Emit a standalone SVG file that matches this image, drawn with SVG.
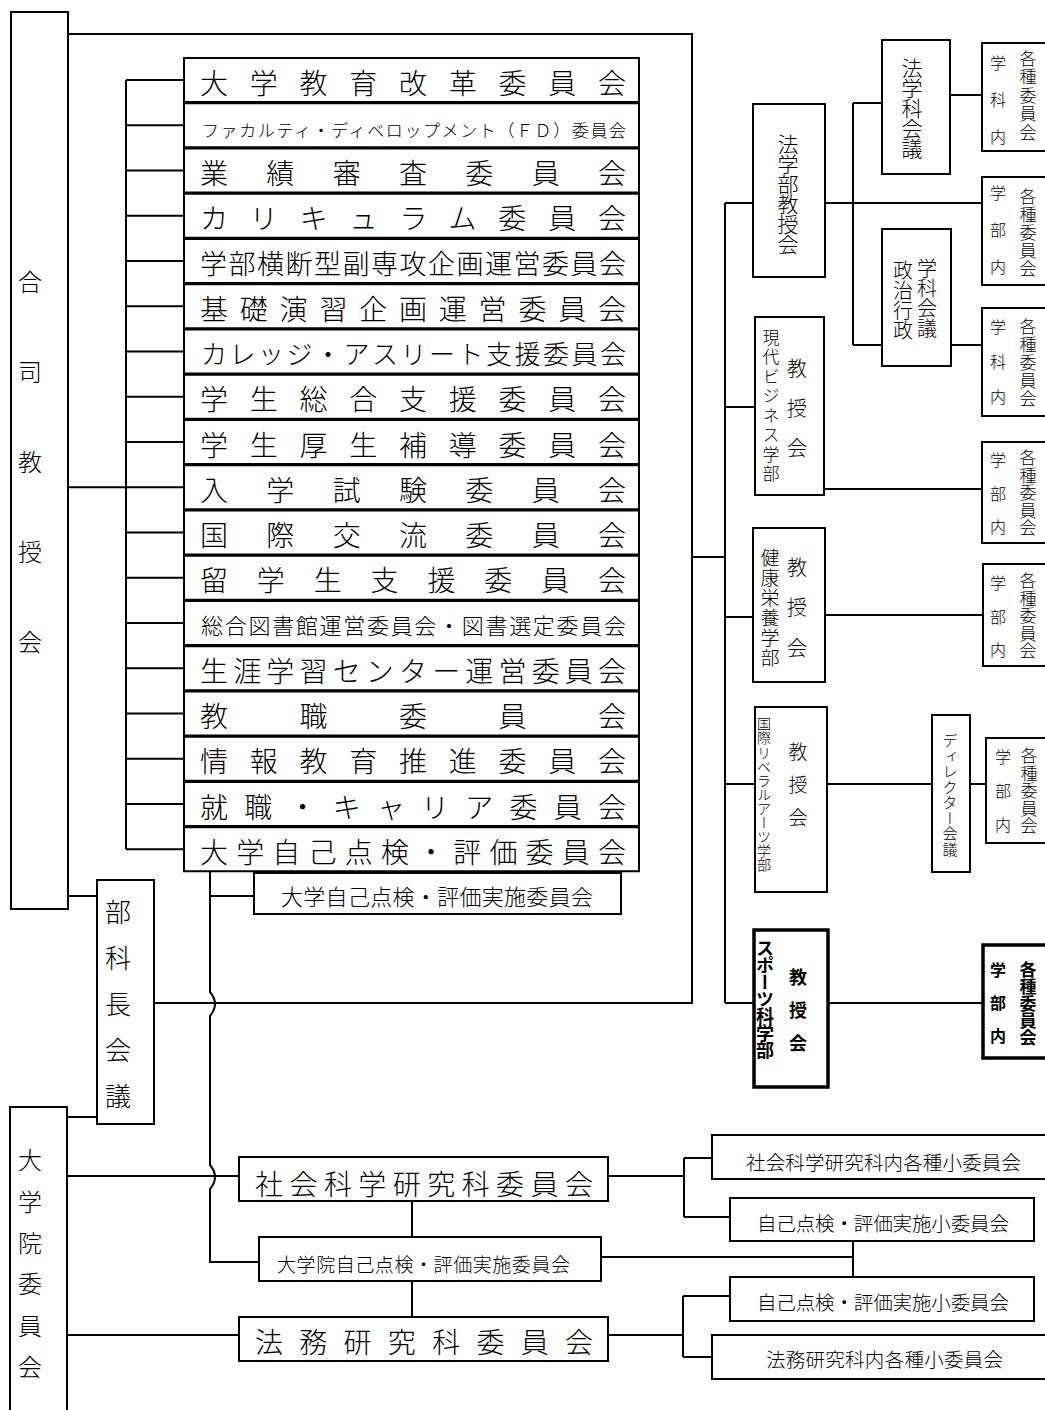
<svg xmlns="http://www.w3.org/2000/svg" width="1045" height="1410" viewBox="0 0 1045 1410">
<style>
.b{fill:#fff;stroke:#000;stroke-width:2}
.bk{fill:#fff;stroke:#000;stroke-width:3.5}
.c{fill:none;stroke:#000;stroke-width:2}
text{font-family:"Noto Sans CJK JP","Noto Sans CJK SC",sans-serif;fill:#000;font-weight:300}
.v{writing-mode:vertical-rl}
.bd{font-weight:bold}
</style>
<rect width="1045" height="1410" fill="#fff"/>
<g id="connectors" class="c">
<path d="M68 34H692V1003H154"/>
<path d="M692 557H725"/>
<path d="M725 203V1003"/>
<path d="M725 203H753M725 407H755M725 617H753M725 784H755M725 1003H754"/>
<path d="M825 203H982"/>
<path d="M853 103V345M853 103H882M853 345H882"/>
<path d="M950 95H982M951 345H982"/>
<path d="M824 489H982M825 615H983M827 784H932M970 784H986M828 1003H983"/>
<path d="M126 80V849.25"/>
<path d="M126 80H184M126 125.25H184M126 170.5H184M126 215.75H184M126 261H184M126 306.25H184M126 351.5H184M126 396.75H184M126 442H184M126 487.25H184M126 532.5H184M126 577.75H184M126 623H184M126 668.25H184M126 713.5H184M126 758.75H184M126 804H184M126 849.25H184"/>
<path d="M68 487.25H126"/>
<path d="M68 896H97M67 1117H97"/>
<path d="M210 871V992Q220 1004 210 1016V1165Q220 1177 210 1189V1262H259"/>
<path d="M210 896H254"/>
<path d="M67 1176H239M67 1335H239"/>
<path d="M412 1201V1237M412 1281V1317"/>
<path d="M608 1176H684M684 1158V1217M684 1158H712M684 1217H730"/>
<path d="M601 1257H853M853 1241V1277"/>
<path d="M608 1335H683M683 1296V1357M683 1296H730M683 1357H712"/>
</g>
<g id="goudou">
<rect class="b" x="11" y="12" width="57" height="897"/>
<text class="v" x="30" y="270" font-size="24" letter-spacing="66">合司教授会</text>
</g>
<g id="bukachou">
<rect class="b" x="97" y="880" width="57" height="244"/>
<text class="v" x="118" y="899" font-size="26" letter-spacing="20">部科長会議</text>
</g>
<g id="daigakuin">
<rect class="b" x="10" y="1107" width="57" height="320"/>
<text class="v" x="30" y="1148" font-size="24" letter-spacing="17.4">大学院委員会</text>
</g>
<g id="r0"><rect class="b" x="184" y="58" width="455" height="44"/><text x="200" y="93.6" font-size="28" textLength="426" lengthAdjust="spacing">大学教育改革委員会</text></g>
<g id="r1"><rect class="b" x="184" y="103.25" width="455" height="44"/><text x="202" y="136.7" font-size="17" textLength="424" lengthAdjust="spacing">ファカルティ・ディベロップメント（ＦＤ）委員会</text></g>
<g id="r2"><rect class="b" x="184" y="148.5" width="455" height="44"/><text x="200" y="184.1" font-size="28" textLength="426" lengthAdjust="spacing">業績審査委員会</text></g>
<g id="r3"><rect class="b" x="184" y="193.75" width="455" height="44"/><text x="200" y="229.4" font-size="28" textLength="426" lengthAdjust="spacing">カリキュラム委員会</text></g>
<g id="r4"><rect class="b" x="184" y="239" width="455" height="44"/><text x="200" y="274.3" font-size="27" textLength="426" lengthAdjust="spacing">学部横断型副専攻企画運営委員会</text></g>
<g id="r5"><rect class="b" x="184" y="284.25" width="455" height="44"/><text x="200" y="319.9" font-size="28" textLength="426" lengthAdjust="spacing">基礎演習企画運営委員会</text></g>
<g id="r6"><rect class="b" x="184" y="329.5" width="455" height="44"/><text x="201" y="364.4" font-size="26" textLength="425" lengthAdjust="spacing">カレッジ・アスリート支援委員会</text></g>
<g id="r7"><rect class="b" x="184" y="374.75" width="455" height="44"/><text x="200" y="410.4" font-size="28" textLength="426" lengthAdjust="spacing">学生総合支援委員会</text></g>
<g id="r8"><rect class="b" x="184" y="420" width="455" height="44"/><text x="200" y="455.6" font-size="28" textLength="426" lengthAdjust="spacing">学生厚生補導委員会</text></g>
<g id="r9"><rect class="b" x="184" y="465.25" width="455" height="44"/><text x="200" y="500.9" font-size="28" textLength="426" lengthAdjust="spacing">入学試験委員会</text></g>
<g id="r10"><rect class="b" x="184" y="510.5" width="455" height="44"/><text x="200" y="546.1" font-size="28" textLength="426" lengthAdjust="spacing">国際交流委員会</text></g>
<g id="r11"><rect class="b" x="184" y="555.75" width="455" height="44"/><text x="200" y="591.4" font-size="28" textLength="426" lengthAdjust="spacing">留学生支援委員会</text></g>
<g id="r12"><rect class="b" x="184" y="601" width="455" height="44"/><text x="201" y="634.4" font-size="22" textLength="425" lengthAdjust="spacing">総合図書館運営委員会・図書選定委員会</text></g>
<g id="r13"><rect class="b" x="184" y="646.25" width="455" height="44"/><text x="200" y="681.9" font-size="28" textLength="426" lengthAdjust="spacing">生涯学習センター運営委員会</text></g>
<g id="r14"><rect class="b" x="184" y="691.5" width="455" height="44"/><text x="200" y="727.1" font-size="28" textLength="426" lengthAdjust="spacing">教職委員会</text></g>
<g id="r15"><rect class="b" x="184" y="736.75" width="455" height="44"/><text x="200" y="772.4" font-size="28" textLength="426" lengthAdjust="spacing">情報教育推進委員会</text></g>
<g id="r16"><rect class="b" x="184" y="782" width="455" height="44"/><text x="200" y="817.6" font-size="28" textLength="426" lengthAdjust="spacing">就職・キャリア委員会</text></g>
<g id="r17"><rect class="b" x="184" y="827.25" width="455" height="44"/><text x="200" y="862.9" font-size="28" textLength="426" lengthAdjust="spacing">大学自己点検・評価委員会</text></g>
<g id="jisshi"><rect class="b" x="254" y="873" width="367" height="41"/><text x="281" y="905.4" font-size="22" textLength="312" lengthAdjust="spacing">大学自己点検・評価実施委員会</text></g>
<g id="shakai"><rect class="b" x="239" y="1157" width="369" height="44"/><text x="255" y="1195.1" font-size="28" textLength="338" lengthAdjust="spacing">社会科学研究科委員会</text></g>
<g id="in-jisshi"><rect class="b" x="259" y="1237" width="342" height="44"/><text x="277" y="1272.2" font-size="19" textLength="293" lengthAdjust="spacing">大学院自己点検・評価実施委員会</text></g>
<g id="houmu"><rect class="b" x="239" y="1317" width="369" height="44"/><text x="255" y="1353.1" font-size="28" textLength="338" lengthAdjust="spacing">法務研究科委員会</text></g>
<g id="shakai-sub"><rect class="b" x="712" y="1135" width="340" height="44"/><text x="746" y="1170.4" font-size="19.5" textLength="275" lengthAdjust="spacing">社会科学研究科内各種小委員会</text></g>
<g id="jiko1"><rect class="b" x="730" y="1198" width="304" height="43"/><text x="757" y="1231.4" font-size="19.5" textLength="252" lengthAdjust="spacing">自己点検・評価実施小委員会</text></g>
<g id="jiko2"><rect class="b" x="730" y="1277" width="304" height="44"/><text x="757" y="1309.9" font-size="19.5" textLength="252" lengthAdjust="spacing">自己点検・評価実施小委員会</text></g>
<g id="houmu-sub"><rect class="b" x="712" y="1335" width="340" height="44"/><text x="766" y="1366.9" font-size="19.5" textLength="237" lengthAdjust="spacing">法務研究科内各種小委員会</text></g>
<g id="hougakubu">
<rect class="b" x="753" y="104" width="72" height="173"/>
<text class="v" x="788" y="133.5" font-size="21" letter-spacing="-1">法学部教授会</text>
</g>
<g id="hougakka">
<rect class="b" x="882" y="40" width="68" height="134"/>
<text class="v" x="912" y="57.5" font-size="21" letter-spacing="-1">法学科会議</text>
</g>
<g id="seiji">
<rect class="b" x="882" y="229" width="69" height="137"/>
<text class="v" x="927" y="258" font-size="20">学科会議</text>
<text class="v" x="903" y="260" font-size="20">政治行政</text>
</g>
<g id="gendai">
<rect class="b" x="755" y="317" width="69" height="178"/>
<text class="v" x="771" y="329" font-size="17" letter-spacing="2.5">現代ビジネス学部</text>
<text class="v" x="797" y="358" font-size="20" letter-spacing="20">教授会</text>
</g>
<g id="kenkou">
<rect class="b" x="753" y="528" width="72" height="154"/>
<text class="v" x="770" y="548.5" font-size="19" letter-spacing="1">健康栄養学部</text>
<text class="v" x="797" y="557" font-size="20" letter-spacing="20.5">教授会</text>
</g>
<g id="kokusai">
<rect class="b" x="755" y="707" width="72" height="185"/>
<text class="v" x="764" y="717" font-size="14" letter-spacing="0.1">国際リベラルアーツ学部</text>
<text class="v" x="798" y="742.5" font-size="19" letter-spacing="14">教授会</text>
</g>
<g id="director">
<rect class="b" x="932" y="715" width="38" height="157"/>
<text class="v" x="950" y="733" font-size="15" letter-spacing="0.5">ディレクター会議</text>
</g>
<g id="sports">
<rect class="bk" x="754" y="930" width="74" height="157"/>
<text class="v bd" x="765" y="939" font-size="18" letter-spacing="-1">スポーツ科学部</text>
<text class="v bd" x="798" y="968" font-size="18" letter-spacing="15">教授会</text>
</g>
<g id="iinkai-a">
<rect class="b" x="982" y="43" width="70" height="108"/>
<text class="v" x="998" y="55" font-size="16" letter-spacing="21">学科内</text>
<text class="v" x="1028" y="50" font-size="17" letter-spacing="1.5">各種委員会</text>
</g>
<g id="iinkai-b">
<rect class="b" x="982" y="177" width="70" height="108"/>
<text class="v" x="998" y="185" font-size="16" letter-spacing="21">学部内</text>
<text class="v" x="1028" y="188" font-size="17" letter-spacing="1">各種委員会</text>
</g>
<g id="iinkai-c">
<rect class="b" x="982" y="308" width="70" height="108"/>
<text class="v" x="998" y="319" font-size="16" letter-spacing="19">学科内</text>
<text class="v" x="1028" y="318.5" font-size="17" letter-spacing="1">各種委員会</text>
</g>
<g id="iinkai-d">
<rect class="b" x="982" y="442" width="70" height="101"/>
<text class="v" x="998" y="452" font-size="16" letter-spacing="17.5">学部内</text>
<text class="v" x="1028" y="449.5" font-size="17" letter-spacing="0.5">各種委員会</text>
</g>
<g id="iinkai-e">
<rect class="b" x="983" y="564" width="70" height="102"/>
<text class="v" x="998" y="575" font-size="16" letter-spacing="17.5">学部内</text>
<text class="v" x="1028" y="572.5" font-size="17" letter-spacing="0.5">各種委員会</text>
</g>
<g id="iinkai-f">
<rect class="b" x="986" y="738" width="66" height="105"/>
<text class="v" x="1003" y="749" font-size="16" letter-spacing="18">学部内</text>
<text class="v" x="1029" y="747.5" font-size="17" letter-spacing="0.5">各種委員会</text>
</g>
<g id="iinkai-g">
<rect class="bk" x="983" y="945" width="70" height="113"/>
<text class="v bd" x="998" y="962" font-size="16" letter-spacing="17">学部内</text>
<text class="v bd" x="1028" y="961.5" font-size="17" letter-spacing="0">各種委員会</text>
</g>
</svg>
